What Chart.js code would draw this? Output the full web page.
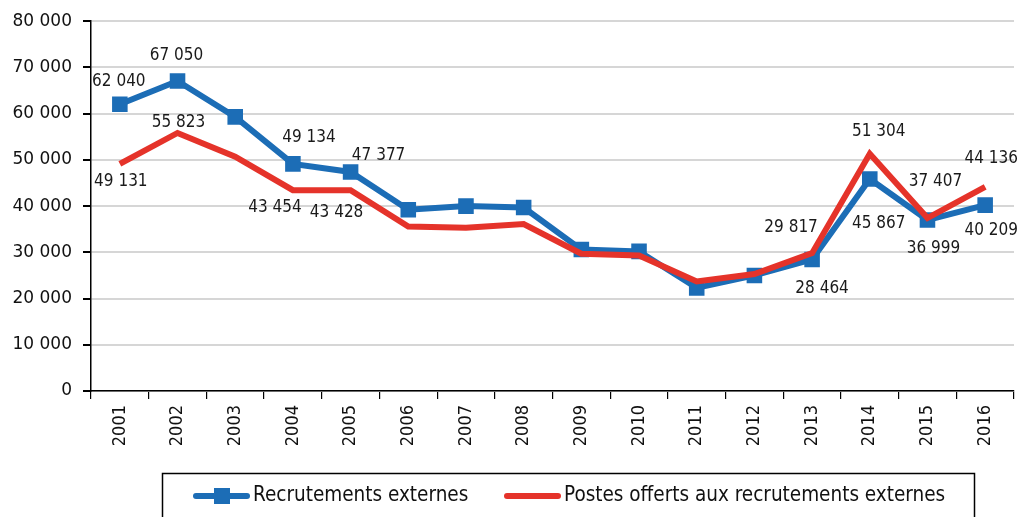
<!DOCTYPE html>
<html>
<head>
<meta charset="utf-8">
<script src="https://cdn.jsdelivr.net/npm/chart.js@4/dist/chart.umd.min.js"></script>
<style>
  html, body { margin: 0; padding: 0; background: #fff; overflow: hidden; }
  #wrap { position: relative; width: 1019px; height: 517px; overflow: hidden; }
</style>
</head>
<body>
<div id="wrap"><canvas id="chart" width="1025" height="517"></canvas></div>
<script>
// Data
const years = ['2001', '2002', '2003', '2004', '2005', '2006', '2007', '2008',
               '2009', '2010', '2011', '2012', '2013', '2014', '2015', '2016'];
const recrutements = [62040, 67050, 59300, 49134, 47377, 39200, 40000, 39700,
                      30600, 30200, 22300, 25000, 28464, 45867, 36999, 40209];
const postesOfferts = [49131, 55823, 50700, 43454, 43428, 35600, 35300, 36100,
                       29700, 29300, 23700, 25300, 29817, 51304, 37407, 44136];
const yTicks = [0, 10000, 20000, 30000, 40000, 50000, 60000, 70000, 80000];

const seriesNames = ['Recrutements externes', 'Postes offerts aux recrutements externes'];

const BLUE = '#1c6db6';
const RED = '#e5332a';

function fmt(n) {
    return String(n).replace(/\B(?=(\d{3})+(?!\d))/g, ' ');
}

// where the value labels sit, relative to their point (dataset index -> point index -> [dx, dy])
const labelPlacement = {
    0: { 0: [-1, -23], 1: [-1, -25], 3: [16, -26], 4: [28, -16],
         12: [10, 29], 13: [9, 45], 14: [6, 29], 15: [6, 25] },
    1: { 0: [1, 18], 1: [1, -10], 3: [-18, 17], 4: [-14, 22],
         12: [-21, -26], 13: [9, -22], 14: [8, -37], 15: [6, -28] }
};

const valueLabels = {
    id: 'valueLabels',
    afterDatasetsDraw(chart) {
        const ctx = chart.ctx;
        ctx.save();
        ctx.font = '17px "DejaVu Sans Condensed"';
        ctx.fillStyle = '#1a1a1a';
        ctx.textAlign = 'center';
        ctx.textBaseline = 'middle';
        chart.data.datasets.forEach((ds, di) => {
            const meta = chart.getDatasetMeta(di);
            const place = labelPlacement[di] || {};
            Object.keys(place).forEach(k => {
                const pt = meta.data[k];
                if (!pt) return;
                const [dx, dy] = place[k];
                ctx.fillText(fmt(ds.data[k]), pt.x + dx, pt.y + dy);
            });
        });
        ctx.restore();
    }
};

// boxed legend under the axis
const boxLegend = {
    id: 'boxLegend',
    afterDraw(chart) {
        const ctx = chart.ctx;
        ctx.save();
        ctx.strokeStyle = '#000';
        ctx.lineWidth = 1.5;
        ctx.strokeRect(162.5, 473.5, 812, 60);

        const y = 496;
        ctx.lineCap = 'round';
        ctx.lineWidth = 6;
        ctx.strokeStyle = BLUE;
        ctx.beginPath();
        ctx.moveTo(196, y);
        ctx.lineTo(247, y);
        ctx.stroke();
        ctx.fillStyle = BLUE;
        ctx.fillRect(214, y - 8, 16, 16);

        ctx.strokeStyle = RED;
        ctx.beginPath();
        ctx.moveTo(507, y);
        ctx.lineTo(558, y);
        ctx.stroke();

        ctx.fillStyle = '#111';
        ctx.font = '20.5px "DejaVu Sans Condensed"';
        ctx.textBaseline = 'middle';
        ctx.textAlign = 'left';
        ctx.fillText(seriesNames[0], 253, y);
        ctx.fillText(seriesNames[1], 564, y);
        ctx.restore();
    }
};

new Chart(document.getElementById('chart'), {
    type: 'line',
    data: {
        labels: years,
        datasets: [{
            label: seriesNames[0],
            data: recrutements,
            borderColor: BLUE,
            backgroundColor: BLUE,
            borderWidth: 6,
            pointStyle: 'rect',
            pointRadius: 11,
            pointBorderWidth: 0,
            pointBackgroundColor: BLUE,
            tension: 0,
            order: 2
        }, {
            label: seriesNames[1],
            data: postesOfferts,
            borderColor: RED,
            backgroundColor: RED,
            borderWidth: 6,
            pointRadius: 0,
            tension: 0,
            order: 1
        }]
    },
    options: {
        responsive: false,
        animation: false,
        events: [],
        layout: { padding: { top: 21, right: 0, left: 0, bottom: 0 } },
        plugins: {
            legend: { display: false },
            tooltip: { enabled: false }
        },
        scales: {
            x: {
                offset: true,
                grid: {
                    offset: true,
                    drawOnChartArea: false,
                    color: '#000',
                    tickLength: 8,
                    lineWidth: 1.2
                },
                border: { color: '#000', width: 1.5 },
                ticks: {
                    minRotation: 90,
                    maxRotation: 90,
                    padding: 6,
                    color: '#111',
                    font: { family: '"DejaVu Sans Condensed"', size: 18 }
                },
                afterFit(scale) {
                    scale.height = 126;
                }
            },
            y: {
                min: 0,
                max: 80000,
                afterBuildTicks(scale) {
                    scale.ticks = yTicks.map(v => ({ value: v }));
                },
                grid: {
                    color: '#d6d6d6',
                    lineWidth: 2,
                    tickColor: '#000',
                    tickLength: 8
                },
                border: { color: '#000', width: 1.5 },
                ticks: {
                    padding: 11,
                    color: '#111',
                    font: { family: '"DejaVu Sans"', size: 17 },
                    callback: v => fmt(v)
                },
                afterFit(scale) { scale.width = 91; }
            }
        }
    },
    plugins: [valueLabels, boxLegend]
});
</script>
</body>
</html>
